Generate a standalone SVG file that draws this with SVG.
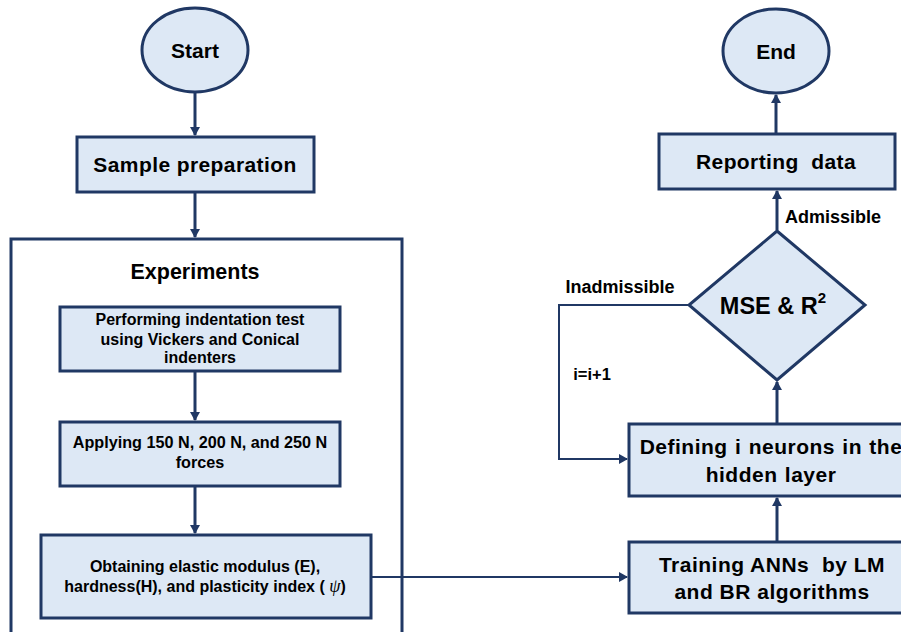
<svg xmlns="http://www.w3.org/2000/svg" width="901" height="632" viewBox="0 0 901 632">
<defs>
<marker id="ah" markerWidth="10" markerHeight="10" refX="8" refY="5" orient="auto" markerUnits="userSpaceOnUse">
<path d="M0,0 L9,5 L0,10 z" fill="#203864"/>
</marker>
<style>
.n{fill:#dde8f5;stroke:#203864;stroke-width:3}
.t{font-family:"Liberation Sans",Arial,sans-serif;font-weight:bold;fill:#000;text-anchor:middle}
.c{fill:none;stroke:#203864;stroke-width:3}
.c2{fill:none;stroke:#203864;stroke-width:2}
</style>
</defs>
<rect width="901" height="632" fill="#fff"/>
<g id="experiments">
<rect x="11" y="239" width="391" height="410" fill="none" stroke="#203864" stroke-width="3"/>
<text class="t" x="195" y="279" font-size="21.5">Experiments</text>
</g>
<g id="start">
<ellipse class="n" cx="195" cy="50" rx="53" ry="42"/>
<text class="t" x="195" y="58" font-size="21">Start</text>
</g>
<g id="sample">
<rect class="n" x="77" y="137" width="237" height="55"/>
<text class="t" x="195" y="172" font-size="21" letter-spacing="0.4">Sample preparation</text>
</g>
<g id="indent">
<rect class="n" x="60" y="307" width="280" height="64"/>
<text class="t" font-size="16"><tspan x="200" y="325">Performing indentation test</tspan><tspan x="200" y="345">using Vickers and Conical</tspan><tspan x="200" y="363">indenters</tspan></text>
</g>
<g id="forces">
<rect class="n" x="60" y="422" width="280" height="64"/>
<text class="t" font-size="16.2"><tspan x="200" y="448">Applying 150 N, 200 N, and 250 N</tspan><tspan x="200" y="468">forces</tspan></text>
</g>
<g id="obtain">
<rect class="n" x="41" y="535" width="330" height="83"/>
<text class="t" font-size="16"><tspan x="205" y="572">Obtaining elastic modulus (E),</tspan><tspan x="205" y="592">hardness(H), and plasticity index ( <tspan font-family="'Liberation Serif',serif" font-style="italic" font-weight="normal" font-size="18">ψ</tspan>)</tspan></text>
</g>
<g id="training">
<rect class="n" x="629" y="542" width="290" height="71"/>
<text class="t" font-size="21" letter-spacing="0.5" xml:space="preserve"><tspan x="772" y="572">Training ANNs  by LM</tspan><tspan x="772" y="599">and BR algorithms</tspan></text>
</g>
<g id="defining">
<rect class="n" x="629" y="424" width="290" height="72"/>
<text class="t" font-size="21" letter-spacing="0.5" word-spacing="1"><tspan x="771" y="454">Defining i neurons in the</tspan><tspan x="771" y="482">hidden layer</tspan></text>
</g>
<g id="decision">
<polygon class="n" points="777,231 865,305 777,380 689,305"/>
<text class="t" x="773" y="314" font-size="23.5">MSE &amp; R<tspan font-size="15" dy="-11">2</tspan></text>
</g>
<g id="reporting">
<rect class="n" x="659" y="134" width="236" height="55"/>
<text class="t" x="776" y="169" font-size="21" letter-spacing="0.4" xml:space="preserve">Reporting  data</text>
</g>
<g id="end">
<ellipse class="n" cx="776" cy="51" rx="53" ry="42"/>
<text class="t" x="776" y="59" font-size="21">End</text>
</g>
<g id="connectors">
<line class="c" x1="195" y1="93" x2="195" y2="135" marker-end="url(#ah)"/>
<line class="c" x1="195" y1="193" x2="195" y2="237" marker-end="url(#ah)"/>
<line class="c" x1="195" y1="372" x2="195" y2="420" marker-end="url(#ah)"/>
<line class="c" x1="195" y1="487" x2="195" y2="533" marker-end="url(#ah)"/>
<line class="c2" x1="372" y1="577" x2="627" y2="577" marker-end="url(#ah)"/>
<line class="c" x1="777" y1="541" x2="777" y2="498" marker-end="url(#ah)"/>
<line class="c" x1="777" y1="423" x2="777" y2="382" marker-end="url(#ah)"/>
<polyline class="c2" points="689,305 559,305 559,459 627,459" marker-end="url(#ah)"/>
<line class="c" x1="777" y1="230" x2="777" y2="191" marker-end="url(#ah)"/>
<line class="c" x1="776" y1="133" x2="776" y2="95" marker-end="url(#ah)"/>
<text class="t" x="620" y="293" font-size="18">Inadmissible</text>
<text class="t" x="833" y="223" font-size="18">Admissible</text>
<text class="t" x="592" y="380" font-size="16.5">i=i+1</text>
</g>
</svg>
